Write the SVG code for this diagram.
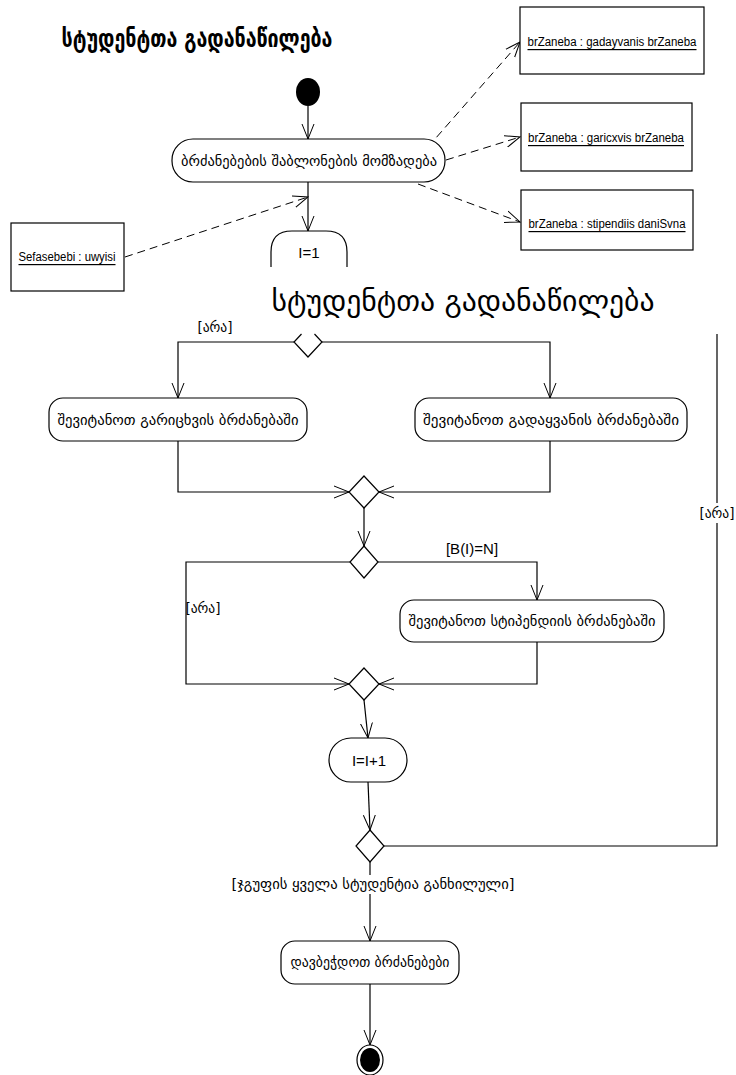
<svg xmlns="http://www.w3.org/2000/svg" width="736" height="1075" viewBox="0 0 736 1075">
<defs>
<marker id="ah" markerUnits="userSpaceOnUse" markerWidth="16" markerHeight="14" viewBox="0 0 16 14" refX="15" refY="7" orient="auto">
<path d="M0,1 L15,7 L0,13" fill="none" stroke="#000" stroke-width="1" stroke-dasharray="none"/>
</marker>
<style>
.n{fill:#fff;stroke:#000;stroke-width:1.2}
.c{fill:none;stroke:#000;stroke-width:1.2}
.d{fill:none;stroke:#000;stroke-width:1;stroke-dasharray:8 5}
.g{font-family:"DejaVu Sans",sans-serif;font-size:13.5px;text-anchor:middle;dominant-baseline:central;fill:#000}
.l{font-family:"Liberation Sans",Arial,sans-serif;font-size:15px;text-anchor:middle;dominant-baseline:central;fill:#000}
.o{font-family:"Liberation Sans",Arial,sans-serif;font-size:12px;text-anchor:middle;dominant-baseline:central;text-decoration:underline;fill:#000}
</style>
</defs>
<rect width="736" height="1075" fill="#fff"/>

<g id="title1"><text x="197" y="38" class="g" style="font-size:25px;font-weight:bold" textLength="271" lengthAdjust="spacingAndGlyphs">სტუდენტთა გადანაწილება</text></g>
<g id="title2"><text x="463" y="301" class="g" style="font-size:29px" textLength="383" lengthAdjust="spacingAndGlyphs">სტუდენტთა გადანაწილება</text></g>

<g id="connectors">
<line class="c" x1="308" y1="106" x2="308" y2="139" marker-end="url(#ah)"/>
<line class="c" x1="308" y1="182" x2="308" y2="231" marker-end="url(#ah)"/>
<line class="d" x1="125" y1="257" x2="308" y2="197" marker-end="url(#ah)"/>
<line class="d" x1="428" y1="147" x2="520" y2="42" marker-end="url(#ah)"/>
<line class="d" x1="446" y1="160" x2="520" y2="137" marker-end="url(#ah)"/>
<line class="d" x1="418" y1="184" x2="520" y2="222" marker-end="url(#ah)"/>
<polyline class="c" points="294,342 178,342 178,398" marker-end="url(#ah)"/>
<polyline class="c" points="322,342 550,342 550,398" marker-end="url(#ah)"/>
<polyline class="c" points="178,441 178,492 349,492" marker-end="url(#ah)"/>
<polyline class="c" points="550,441 550,492 379,492" marker-end="url(#ah)"/>
<line class="c" x1="364" y1="508" x2="364" y2="546" marker-end="url(#ah)"/>
<polyline class="c" points="350,562 186,562 186,684 349,684" marker-end="url(#ah)"/>
<polyline class="c" points="378,562 537,562 537,600" marker-end="url(#ah)"/>
<polyline class="c" points="537,642 537,684 379,684" marker-end="url(#ah)"/>
<line class="c" x1="364" y1="700" x2="368" y2="738" marker-end="url(#ah)"/>
<line class="c" x1="368" y1="782" x2="370" y2="830" marker-end="url(#ah)"/>
<polyline class="c" points="384,846 717,846 717,334"/>
<line class="c" x1="370" y1="862" x2="370" y2="941" marker-end="url(#ah)"/>
<line class="c" x1="370" y1="984" x2="370" y2="1045" marker-end="url(#ah)"/>
<rect x="700" y="503" width="34" height="20" fill="#fff"/>
<text x="717" y="513" class="g">[არა]</text>
<text x="215" y="327" class="g">[არა]</text>
<text x="203" y="608" class="g">[არა]</text>
<text x="472" y="548" class="l">[B(I)=N]</text>
<rect x="230" y="875" width="288" height="19" fill="#fff"/>
<text x="373" y="884" class="g" textLength="283" lengthAdjust="spacingAndGlyphs">[ჯგუფის ყველა სტუდენტია განხილული]</text>
</g>

<g id="start"><ellipse cx="308" cy="92" rx="12" ry="14" fill="#000"/></g>
<g id="prepare"><rect class="n" x="172" y="139" width="273" height="43" rx="21" ry="21"/><text x="309" y="161" class="g" textLength="256" lengthAdjust="spacingAndGlyphs">ბრძანებების შაბლონების მომზადება</text></g>
<g id="i1"><path class="n" d="M271,267 L271,252 Q271,231 292,231 L326,231 Q347,231 347,252 L347,267"/><text x="309" y="252" class="l">I=1</text></g>
<g id="obj1"><rect class="n" x="520" y="7" width="184" height="67"/><text x="612" y="42" class="o" textLength="169" lengthAdjust="spacingAndGlyphs">brZaneba : gadayvanis brZaneba</text></g>
<g id="obj2"><rect class="n" x="521" y="103" width="171" height="68"/><text x="606" y="138" class="o" textLength="156" lengthAdjust="spacingAndGlyphs">brZaneba : garicxvis brZaneba</text></g>
<g id="obj3"><rect class="n" x="521" y="190" width="172" height="60"/><text x="607" y="224" class="o" textLength="157" lengthAdjust="spacingAndGlyphs">brZaneba : stipendiis daniSvna</text></g>
<g id="obj4"><rect class="n" x="11" y="223" width="113" height="68"/><text x="67" y="257" class="o" textLength="97" lengthAdjust="spacingAndGlyphs">Sefasebebi : uwyisi</text></g>

<g id="dec0"><polyline class="n" points="301.5,334 294,342 308,357 322,342 314.5,334"/></g>
<g id="expel"><rect class="n" x="49" y="398" width="258" height="43" rx="14" ry="14"/><text x="178" y="420" class="g" textLength="241" lengthAdjust="spacingAndGlyphs">შევიტანოთ გარიცხვის ბრძანებაში</text></g>
<g id="transfer"><rect class="n" x="415" y="398" width="272" height="43" rx="14" ry="14"/><text x="551" y="420" class="g" textLength="256" lengthAdjust="spacingAndGlyphs">შევიტანოთ გადაყვანის ბრძანებაში</text></g>
<g id="merge1"><polygon class="n" points="364,476 379,492 364,508 349,492"/></g>
<g id="dec2"><polygon class="n" points="364,546 378,562 364,578 350,562"/></g>
<g id="stipend"><rect class="n" x="400" y="600" width="264" height="42" rx="14" ry="14"/><text x="532" y="621" class="g" textLength="247" lengthAdjust="spacingAndGlyphs">შევიტანოთ სტიპენდიის ბრძანებაში</text></g>
<g id="merge2"><polygon class="n" points="364,668 379,684 364,700 349,684"/></g>
<g id="inc"><rect class="n" x="329" y="738" width="78" height="44" rx="22" ry="22"/><text x="369" y="760" class="l">I=I+1</text></g>
<g id="dec3"><polygon class="n" points="370,830 384,846 370,862 356,846"/></g>
<g id="print"><rect class="n" x="281" y="941" width="178" height="43" rx="14" ry="14"/><text x="370" y="962" class="g" textLength="159" lengthAdjust="spacingAndGlyphs">დავბეჭდოთ ბრძანებები</text></g>
<g id="end"><ellipse cx="370" cy="1060" rx="13" ry="15" fill="#fff" stroke="#000" stroke-width="1.2"/><ellipse cx="370" cy="1060" rx="10" ry="12" fill="#000"/></g>
</svg>
